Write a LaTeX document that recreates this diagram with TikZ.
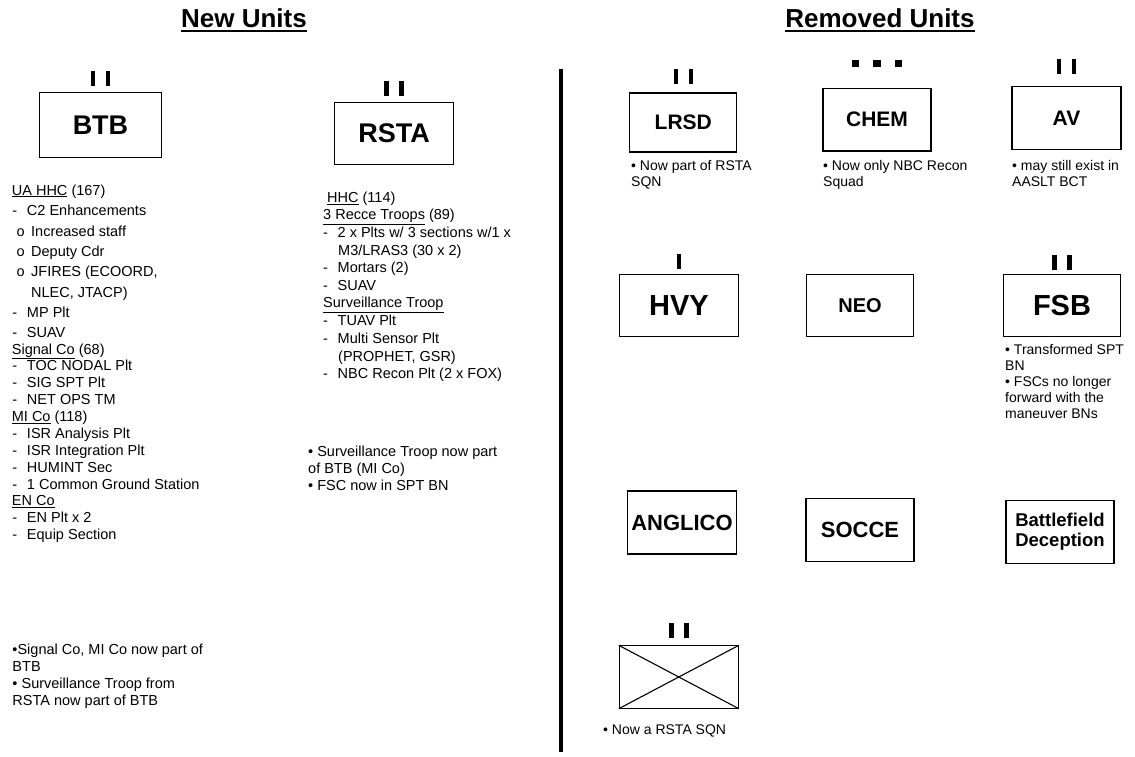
\documentclass[tikz,border=0pt]{standalone}
\usepackage{fontspec}
\setmainfont{Liberation Sans}
\usetikzlibrary{calc}
\newcommand{\BodySize}{\fontsize{14.5}{17}\selectfont}
\newcommand{\NoteSize}{\fontsize{14}{16}\selectfont}
\newcommand{\Dash}{\makebox[14.5pt][l]{-}}
\newcommand{\Oh}{\makebox[14.5pt][l]{o}}
\newcommand{\EchTwo}[2]{%
  \fill ($(#1.north)+(-9.75,-#2)$) rectangle ++(4.5,-15);
  \fill ($(#1.north)+(5.25,-#2)$) rectangle ++(4.5,-15);}

\begin{document}
\begin{tikzpicture}[x=1pt,y=-1pt,
    unitbox/.style={draw, line width=1.1pt, inner sep=0pt, minimum width=108pt, minimum height=62pt, align=center, font=\bfseries\fontsize{21}{22}\selectfont},
    txt/.style={anchor=base west, inner sep=0pt, font=\BodySize},
    note/.style={anchor=base west, inner sep=0pt, font=\NoteSize},
    ttl/.style={anchor=base, inner sep=0pt, font=\bfseries\fontsize{26}{28}\selectfont},
  ]
  \useasboundingbox (0,0) rectangle (1135,757);

  \node[ttl] (newttl) at (244,27.5) {New Units};
  \node[ttl] (remttl) at (880,27.5) {Removed Units};
  \draw[line width=2.5pt] ([yshift=-3.5pt]newttl.base west) -- ([yshift=-3.5pt]newttl.base east);
  \draw[line width=2.5pt] ([yshift=-3.5pt]remttl.base west) -- ([yshift=-3.5pt]remttl.base east);

  \coordinate (divtop) at (561,69);
  \coordinate (divbot) at (561,752);
  \draw[line width=4pt] (divtop) -- (divbot);

  % new units
  \node[unitbox, minimum width=122.5pt, minimum height=64.5pt, font=\bfseries\fontsize{27}{28}\selectfont] (btb) at (100.5,125) {BTB};
  \EchTwo{btb}{6.5}
  \node[unitbox, minimum width=119pt, minimum height=61.5pt, font=\bfseries\fontsize{27}{28}\selectfont] (rsta) at (394,133.5) {RSTA};
  \EchTwo{rsta}{6}

  \foreach \x/\y/\t [count=\i] in {
      11.7/195/{\underline{UA HHC} (167)},
      12.3/215/{\Dash C2 Enhancements},
      16.5/236/{\Oh Increased staff},
      16.5/256.7/{\Oh Deputy Cdr},
      16.5/276.7/{\Oh JFIRES (ECOORD,},
      31/297.3/{NLEC, JTACP)},
      12.3/317.7/{\Dash MP Plt},
      12.3/337.7/{\Dash SUAV},
      11.7/354/{\underline{Signal Co} (68)},
      12.3/370.7/{\Dash TOC NODAL Plt},
      12.3/387.7/{\Dash SIG SPT Plt},
      12.3/404.3/{\Dash NET OPS TM},
      11.7/421.7/{\underline{MI Co} (118)},
      12.3/438.3/{\Dash ISR Analysis Plt},
      12.3/455/{\Dash ISR Integration Plt},
      12.3/472.3/{\Dash HUMINT Sec},
      12.3/489/{\Dash 1 Common Ground Station},
      11.7/505.7/{\underline{EN Co}},
      12.3/522.3/{\Dash EN Plt x 2},
      12.3/539/{\Dash Equip Section},
      12.3/654/{•Signal Co, MI Co now part of},
      12.3/671/{BTB},
      12.3/688/{• Surveillance Troop from},
      12.3/705/{RSTA now part of BTB}}
    \node[txt] (btbtxt\i) at (\x,\y) {\t};

  \foreach \x/\y/\t [count=\i] in {
      327/202.7/{\underline{HHC} (114)},
      323/219.3/{\underline{3 Recce Troops} (89)},
      323/237.3/{\Dash 2 x Plts w/ 3 sections w/1 x},
      338/255/{M3/LRAS3 (30 x 2)},
      323/272.7/{\Dash Mortars (2)},
      323/290.7/{\Dash SUAV},
      323/307.7/{\underline{Surveillance Troop}},
      323/325.7/{\Dash TUAV Plt},
      323/343.7/{\Dash Multi Sensor Plt},
      338/361/{(PROPHET, GSR)},
      323/378.3/{\Dash NBC Recon Plt (2 x FOX)},
      308/456.7/{• Surveillance Troop now part},
      308/473/{of BTB (MI Co)},
      308/490/{• FSC now in SPT BN}}
    \node[txt] (rstatxt\i) at (\x,\y) {\t};

  % removed units
  \node[unitbox, minimum width=107pt, minimum height=59pt] (lrsd) at (683.3,122.5) {LRSD};
  \EchTwo{lrsd}{8}
  \node[unitbox, minimum height=62.7pt] (chem) at (877,119.7) {CHEM};
  \foreach \dx in {-21.5,0,21.5}
    \fill ($(chem.north)+({\dx-3.75},-21)$) rectangle ++(7.5,-7);
  \node[unitbox, minimum width=109pt, minimum height=62.6pt] (av) at (1066.5,118) {AV};
  \EchTwo{av}{11.7}

  \node[unitbox, minimum width=119pt, minimum height=62.4pt, font=\bfseries\fontsize{29}{30}\selectfont] (hvy) at (679,305.5) {HVY};
  \fill ($(hvy.north)+(-2.25,-5)$) rectangle ++(4.5,-14.5);
  \node[unitbox, minimum width=107.5pt, minimum height=62.4pt, font=\bfseries\fontsize{20}{22}\selectfont] (neo) at (860,305.5) {NEO};
  \node[unitbox, minimum width=117.4pt, minimum height=62.7pt, font=\bfseries\fontsize{29}{30}\selectfont] (fsb) at (1062,305.4) {FSB};
  \EchTwo{fsb}{4}

  \node[unitbox, minimum width=108.6pt, minimum height=63pt, font=\bfseries\fontsize{22}{24}\selectfont] (anglico) at (682,522.5) {ANGLICO};
  \node[unitbox, minimum height=63.4pt, font=\bfseries\fontsize{22}{24}\selectfont] (socce) at (860,530) {SOCCE};
  \node[unitbox, minimum height=63.4pt, font=\bfseries\fontsize{18.5}{20}\selectfont] (deception) at (1060,532) {Battlefield\\Deception};

  \node[unitbox, minimum width=119pt, minimum height=62.3pt] (recon) at (678.8,677) {};
  \draw[line width=1.1pt] (recon.north west) -- (recon.south east);
  \draw[line width=1.1pt] (recon.south west) -- (recon.north east);
  \EchTwo{recon}{7}

  \foreach \x/\y/\t [count=\i] in {
      631/170.7/{• Now part of RSTA},
      631/186/{SQN},
      823/170.7/{• Now only NBC Recon},
      823/186/{Squad},
      1012/170.7/{• may still exist in},
      1012/186/{AASLT BCT},
      1005/354/{• Transformed SPT},
      1005/370/{BN},
      1005/386/{• FSCs no longer},
      1005/402.7/{forward with the},
      1005/418.3/{maneuver BNs},
      603/734/{• Now a RSTA SQN}}
    \node[note] (remtxt\i) at (\x,\y) {\t};
\end{tikzpicture}
\end{document}
